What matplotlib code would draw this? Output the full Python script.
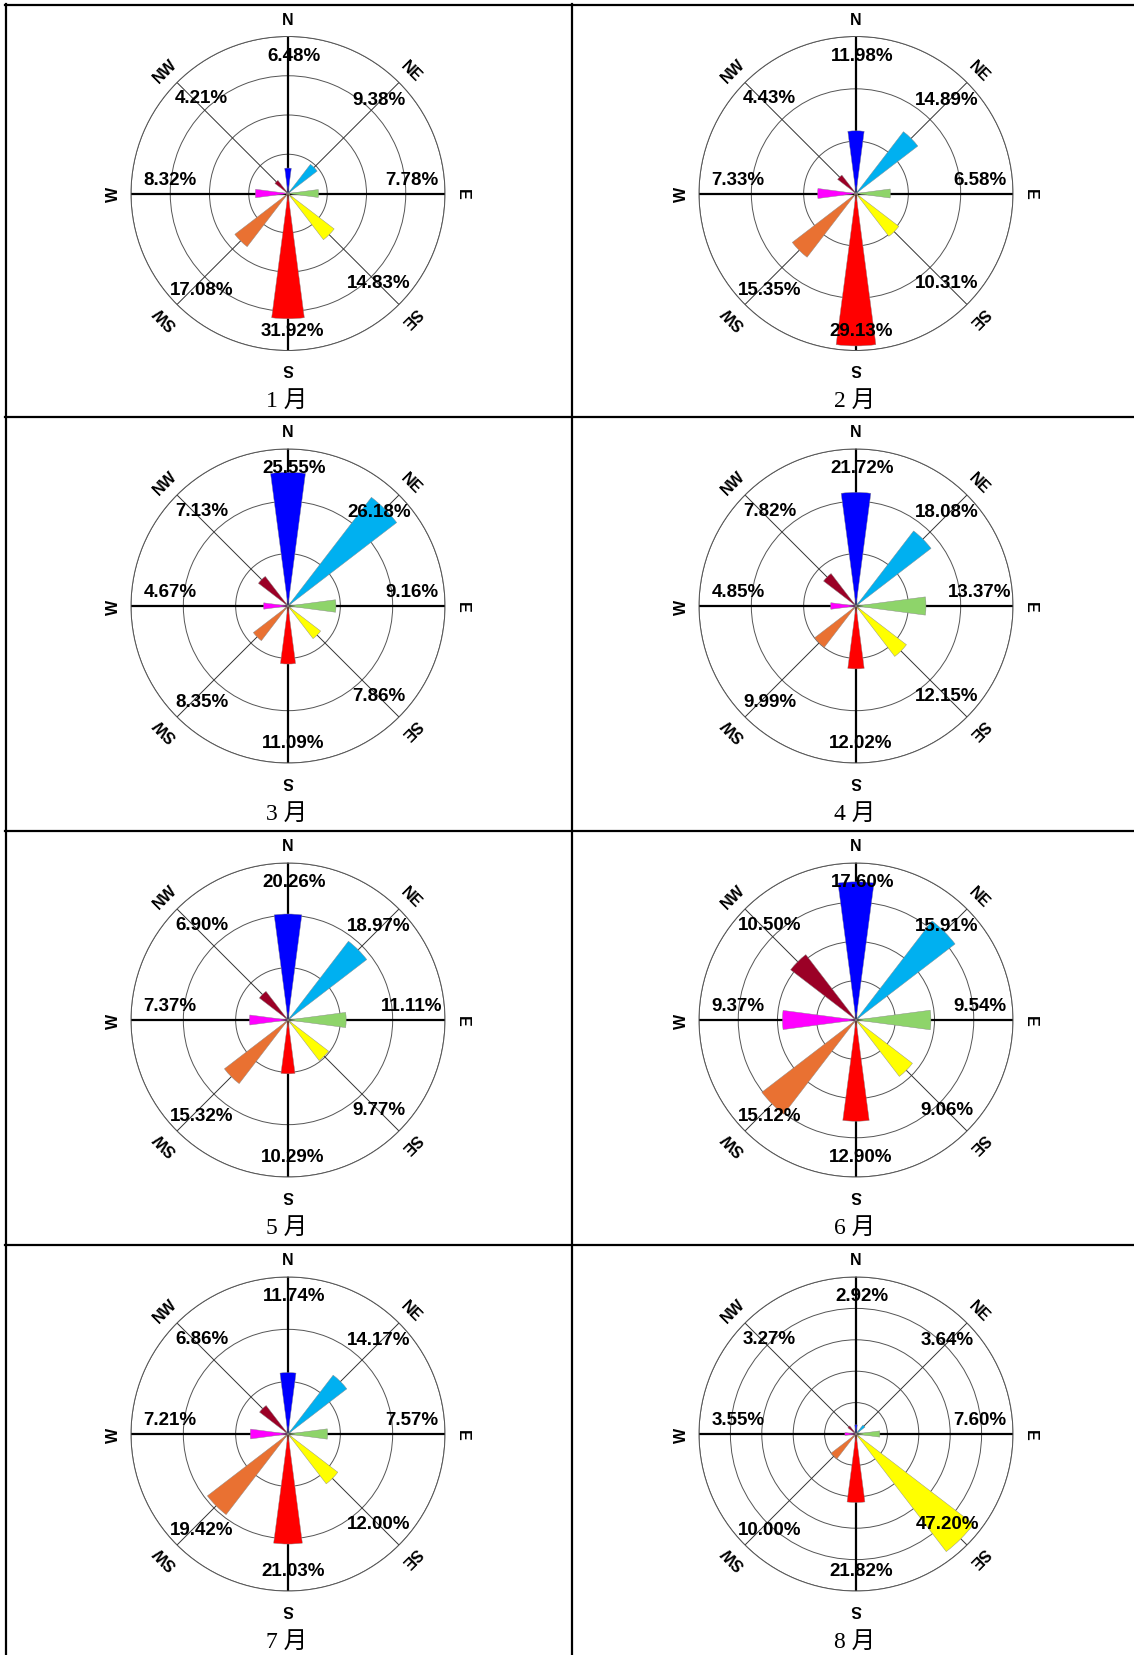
import matplotlib
matplotlib.use("Agg")
import matplotlib.pyplot as plt
from matplotlib.lines import Line2D
import numpy as np


directions = ["N", "NE", "E", "SE", "S", "SW", "W", "NW"]
months = ["1 月", "2 月", "3 月", "4 月", "5 月", "6 月", "7 月", "8 月"]

# wind frequency (%) per direction, order N NE E SE S SW W NW
jan = [6.48, 9.38, 7.78, 14.83, 31.92, 17.08, 8.32, 4.21]
feb = [11.98, 14.89, 6.58, 10.31, 29.13, 15.35, 7.33, 4.43]
mar = [25.55, 26.18, 9.16, 7.86, 11.09, 8.35, 4.67, 7.13]
apr = [21.72, 18.08, 13.37, 12.15, 12.02, 9.99, 4.85, 7.82]
may = [20.26, 18.97, 11.11, 9.77, 10.29, 15.32, 7.37, 6.90]
jun = [17.60, 15.91, 9.54, 9.06, 12.90, 15.12, 9.37, 10.50]
jul = [11.74, 14.17, 7.57, 12.00, 21.03, 19.42, 7.21, 6.86]
aug = [2.92, 3.64, 7.60, 47.20, 21.82, 10.00, 3.55, 3.27]
all_months = [jan, feb, mar, apr, may, jun, jul, aug]

# radial axis of each rose: outer ring and ring spacing
r_max = [40, 30, 30, 30, 30, 20, 30, 50]
r_step = [10, 10, 10, 10, 10, 5, 10, 10]

colors = ["#0000FF", "#00B0F0", "#8ED46A", "#FFFF00",
          "#FF0000", "#E97132", "#FF00FF", "#9B0026"]

# where the percent labels sit (fraction of radius, x / y)
label_pos = [(0.04, 0.88), (0.58, 0.60), (0.79, 0.09), (0.58, -0.57),
             (0.03, -0.87), (-0.55, -0.61), (-0.75, 0.09), (-0.55, 0.61)]

W, H = 1134, 1656
fig = plt.figure(figsize=(W / 100, H / 100), dpi=100)

row_top = [5.5, 418, 832, 1246]
col_cx = [288, 856]
rad = 157

theta = np.radians(np.arange(0, 360, 45))


def draw_rose(ax, values, rmax, step):
    ax.set_theta_zero_location("N")
    ax.set_theta_direction(-1)
    for i, th in enumerate(theta):
        if i % 2 == 0:
            ax.plot([th, th], [0, rmax], color="black", lw=1.6, zorder=1)
        else:
            ax.plot([th, th], [0, rmax], color="#333333", lw=0.7, zorder=1)
    ax.bar(theta, values, width=np.radians(15), color=colors,
           edgecolor="#888888", linewidth=0.3, zorder=2)
    ax.set_ylim(0, rmax)
    ax.set_rticks(np.arange(step, rmax + 0.1, step))
    ax.set_yticklabels([])
    ax.set_xticks([])
    ax.set_axisbelow(True)
    ax.yaxis.grid(True, color="#555555", linewidth=0.7)
    ax.spines["polar"].set_color("#555555")
    ax.spines["polar"].set_linewidth(0.7)

    for v, (fx, fy) in zip(values, label_pos):
        ax.text(0.5 + 0.5 * fx, 0.5 + 0.5 * fy, f"{v:.2f}%",
                transform=ax.transAxes, ha="center", va="center",
                fontsize=13.5, fontweight="bold", family="Liberation Sans",
                zorder=5)

    for i, d in enumerate(directions):
        ang = np.pi / 2 - theta[i]
        ax.text(0.5 + 0.555 * np.cos(ang), 0.5 + 0.555 * np.sin(ang), d,
                transform=ax.transAxes, ha="center", va="center",
                rotation=np.degrees(ang) - 90, rotation_mode="anchor",
                fontsize=11.5, fontweight="bold", family="Liberation Sans")


for k, vals in enumerate(all_months):
    r, c = divmod(k, 2)
    cx = col_cx[c]
    cy = row_top[r] + 189
    ax = fig.add_axes([(cx - rad) / W, (H - cy - rad) / H, 2 * rad / W, 2 * rad / H],
                      projection="polar")
    draw_rose(ax, vals, r_max[k], r_step[k])
    fig.text((cx - 1) / W, 1 - (row_top[r] + 396) / H, months[k],
             ha="center", va="center", fontsize=17,
             family=["Liberation Serif", "Noto Sans CJK SC"])

# table borders
for y in row_top:
    fig.add_artist(Line2D([5 / W, 1], [1 - y / H, 1 - y / H],
                          transform=fig.transFigure, color="black", lw=1.6))
for x in [5.5, 572]:
    fig.add_artist(Line2D([x / W, x / W], [1 - 5 / H, 0],
                          transform=fig.transFigure, color="black", lw=1.6))

fig.savefig("out.png", dpi=100)
